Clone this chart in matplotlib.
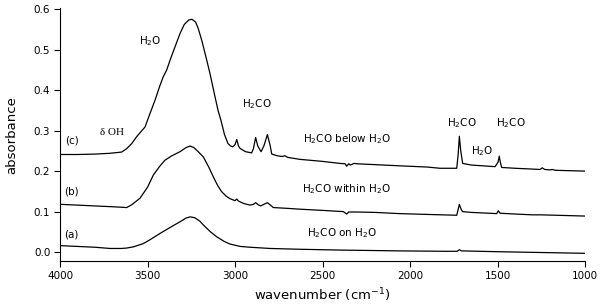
import matplotlib
matplotlib.use("Agg")
import matplotlib.pyplot as plt

# ---- data ----
wn_c = [4000, 3900, 3800, 3714, 3648, 3620, 3590, 3562, 3514, 3486, 3457, 3430, 3411,
        3390, 3371, 3340, 3314, 3290, 3265, 3246, 3225, 3210, 3190, 3165, 3143, 3120,
        3097, 3080, 3060, 3040, 3025, 3013, 3000, 2990, 2980, 2971, 2940, 2905, 2895,
        2882, 2870, 2851, 2835, 2815, 2800, 2790, 2760, 2730, 2715, 2700, 2629, 2500,
        2400, 2370, 2362, 2350, 2340, 2320, 2300, 2200, 2057, 1900, 1829, 1733, 1725,
        1718, 1710, 1699, 1650, 1550, 1514, 1497, 1490, 1484, 1476, 1400, 1300, 1257,
        1244, 1230, 1200, 1185, 1170, 1000]
abs_c = [0.241, 0.241, 0.242, 0.244, 0.247, 0.255, 0.268, 0.285, 0.309, 0.342, 0.375,
         0.410, 0.432, 0.450, 0.474, 0.510, 0.540, 0.562, 0.573, 0.575, 0.568, 0.552,
         0.523, 0.480, 0.441, 0.395, 0.350, 0.325, 0.290, 0.268, 0.262, 0.260, 0.265,
         0.278, 0.262, 0.256, 0.248, 0.245, 0.255, 0.283, 0.262, 0.248, 0.262, 0.290,
         0.265, 0.242, 0.238, 0.236, 0.238, 0.234, 0.229, 0.224, 0.219, 0.218, 0.212,
         0.218, 0.215, 0.219, 0.218, 0.216, 0.213, 0.210, 0.207, 0.207, 0.240, 0.286,
         0.250, 0.219, 0.215, 0.212, 0.211, 0.222, 0.237, 0.222, 0.209, 0.207, 0.205,
         0.204, 0.208, 0.204, 0.203, 0.204, 0.202, 0.200]

wn_b = [4000, 3900, 3800, 3700, 3657, 3619, 3590, 3543, 3500, 3467, 3430, 3400, 3360,
        3314, 3280, 3257, 3235, 3210, 3181, 3150, 3124, 3100, 3076, 3050, 3029, 3000,
        2990, 2980, 2950, 2914, 2895, 2882, 2868, 2853, 2835, 2815, 2800, 2781, 2700,
        2629, 2500, 2381, 2362, 2350, 2300, 2200, 2057, 1900, 1733, 1725, 1718, 1710,
        1700, 1650, 1550, 1505, 1495, 1485, 1400, 1300, 1250, 1000]
abs_b = [0.118, 0.116, 0.114, 0.112, 0.111, 0.110, 0.117, 0.133, 0.160, 0.190, 0.212,
         0.227, 0.238, 0.248, 0.258, 0.262, 0.258, 0.248, 0.235, 0.210, 0.186, 0.165,
         0.149, 0.138, 0.132, 0.127, 0.131, 0.126, 0.120, 0.116, 0.118, 0.122, 0.117,
         0.114, 0.118, 0.122, 0.117, 0.110, 0.108, 0.106, 0.103, 0.100, 0.094, 0.099,
         0.099, 0.098, 0.095, 0.093, 0.091, 0.105, 0.118, 0.108, 0.100, 0.098, 0.096,
         0.095, 0.102, 0.096, 0.094, 0.092, 0.092, 0.089]

wn_a = [4000, 3900, 3800, 3714, 3650, 3619, 3580, 3524, 3480, 3429, 3370, 3314, 3280,
        3257, 3230, 3200, 3181, 3140, 3105, 3060, 3029, 2970, 2914, 2800, 2629, 2400,
        2057, 1800, 1730, 1718, 1705, 1500, 1000]
abs_a = [0.016, 0.014, 0.012, 0.009, 0.009, 0.010, 0.013, 0.021, 0.032, 0.046, 0.061,
         0.075, 0.084, 0.087, 0.085, 0.076, 0.067, 0.050, 0.038, 0.026, 0.020, 0.014,
         0.012, 0.009, 0.007, 0.005, 0.003, 0.002, 0.002, 0.006, 0.003, 0.001, -0.003]

x_ticks = [4000, 3500, 3000, 2500, 2000, 1500, 1000]
y_ticks = [0.0, 0.1, 0.2, 0.3, 0.4, 0.5, 0.6]

plt.rcParams['font.family'] = ['DejaVu Sans']
fig = plt.figure(figsize=(6.0, 3.04), dpi=100)
ax = fig.add_axes([0.1, 0.1414, 0.875, 0.8313])

for wn, ab in [(wn_c, abs_c), (wn_b, abs_b), (wn_a, abs_a)]:
    ax.plot(wn, ab, color='black', lw=0.9)

ax.set_xlim(4000, 1000)
ax.set_ylim(-0.022, 0.602)
ax.set_xticks(x_ticks)
ax.set_yticks(y_ticks)
ax.set_yticklabels([f"{v:.1f}" for v in y_ticks])
ax.tick_params(direction='out', length=4, width=0.8, labelsize=7.5, pad=3)
for s in ['top', 'right']:
    ax.spines[s].set_visible(False)
for s in ['left', 'bottom']:
    ax.spines[s].set_linewidth(0.8)

ax.set_xlabel(r"wavenumber (cm$^{-1}$)", fontsize=9.5, labelpad=4)
ax.set_ylabel("absorbance", fontsize=9.5, labelpad=11)

fs = 7.5
ax.text(3486, 0.522, r"H$_2$O", fontsize=fs, ha='center', va='center')
ax.text(3705, 0.296, "δ OH", fontsize=8, ha='center', va='center', family='Liberation Serif')
ax.text(3933, 0.275, "(c)", fontsize=fs, ha='center', va='center')
ax.text(3933, 0.149, "(b)", fontsize=fs, ha='center', va='center')
ax.text(3933, 0.044, "(a)", fontsize=fs, ha='center', va='center')
ax.text(2876, 0.365, r"H$_2$CO", fontsize=fs, ha='center', va='center')
ax.text(2362, 0.278, r"H$_2$CO below H$_2$O", fontsize=fs, ha='center', va='center')
ax.text(2362, 0.155, r"H$_2$CO within H$_2$O", fontsize=fs, ha='center', va='center')
ax.text(2390, 0.048, r"H$_2$CO on H$_2$O", fontsize=fs, ha='center', va='center')
ax.text(1701, 0.319, r"H$_2$CO", fontsize=fs, ha='center', va='center')
ax.text(1587, 0.250, r"H$_2$O", fontsize=fs, ha='center', va='center')
ax.text(1423, 0.319, r"H$_2$CO", fontsize=fs, ha='center', va='center')

fig.savefig("out.png", dpi=100)
